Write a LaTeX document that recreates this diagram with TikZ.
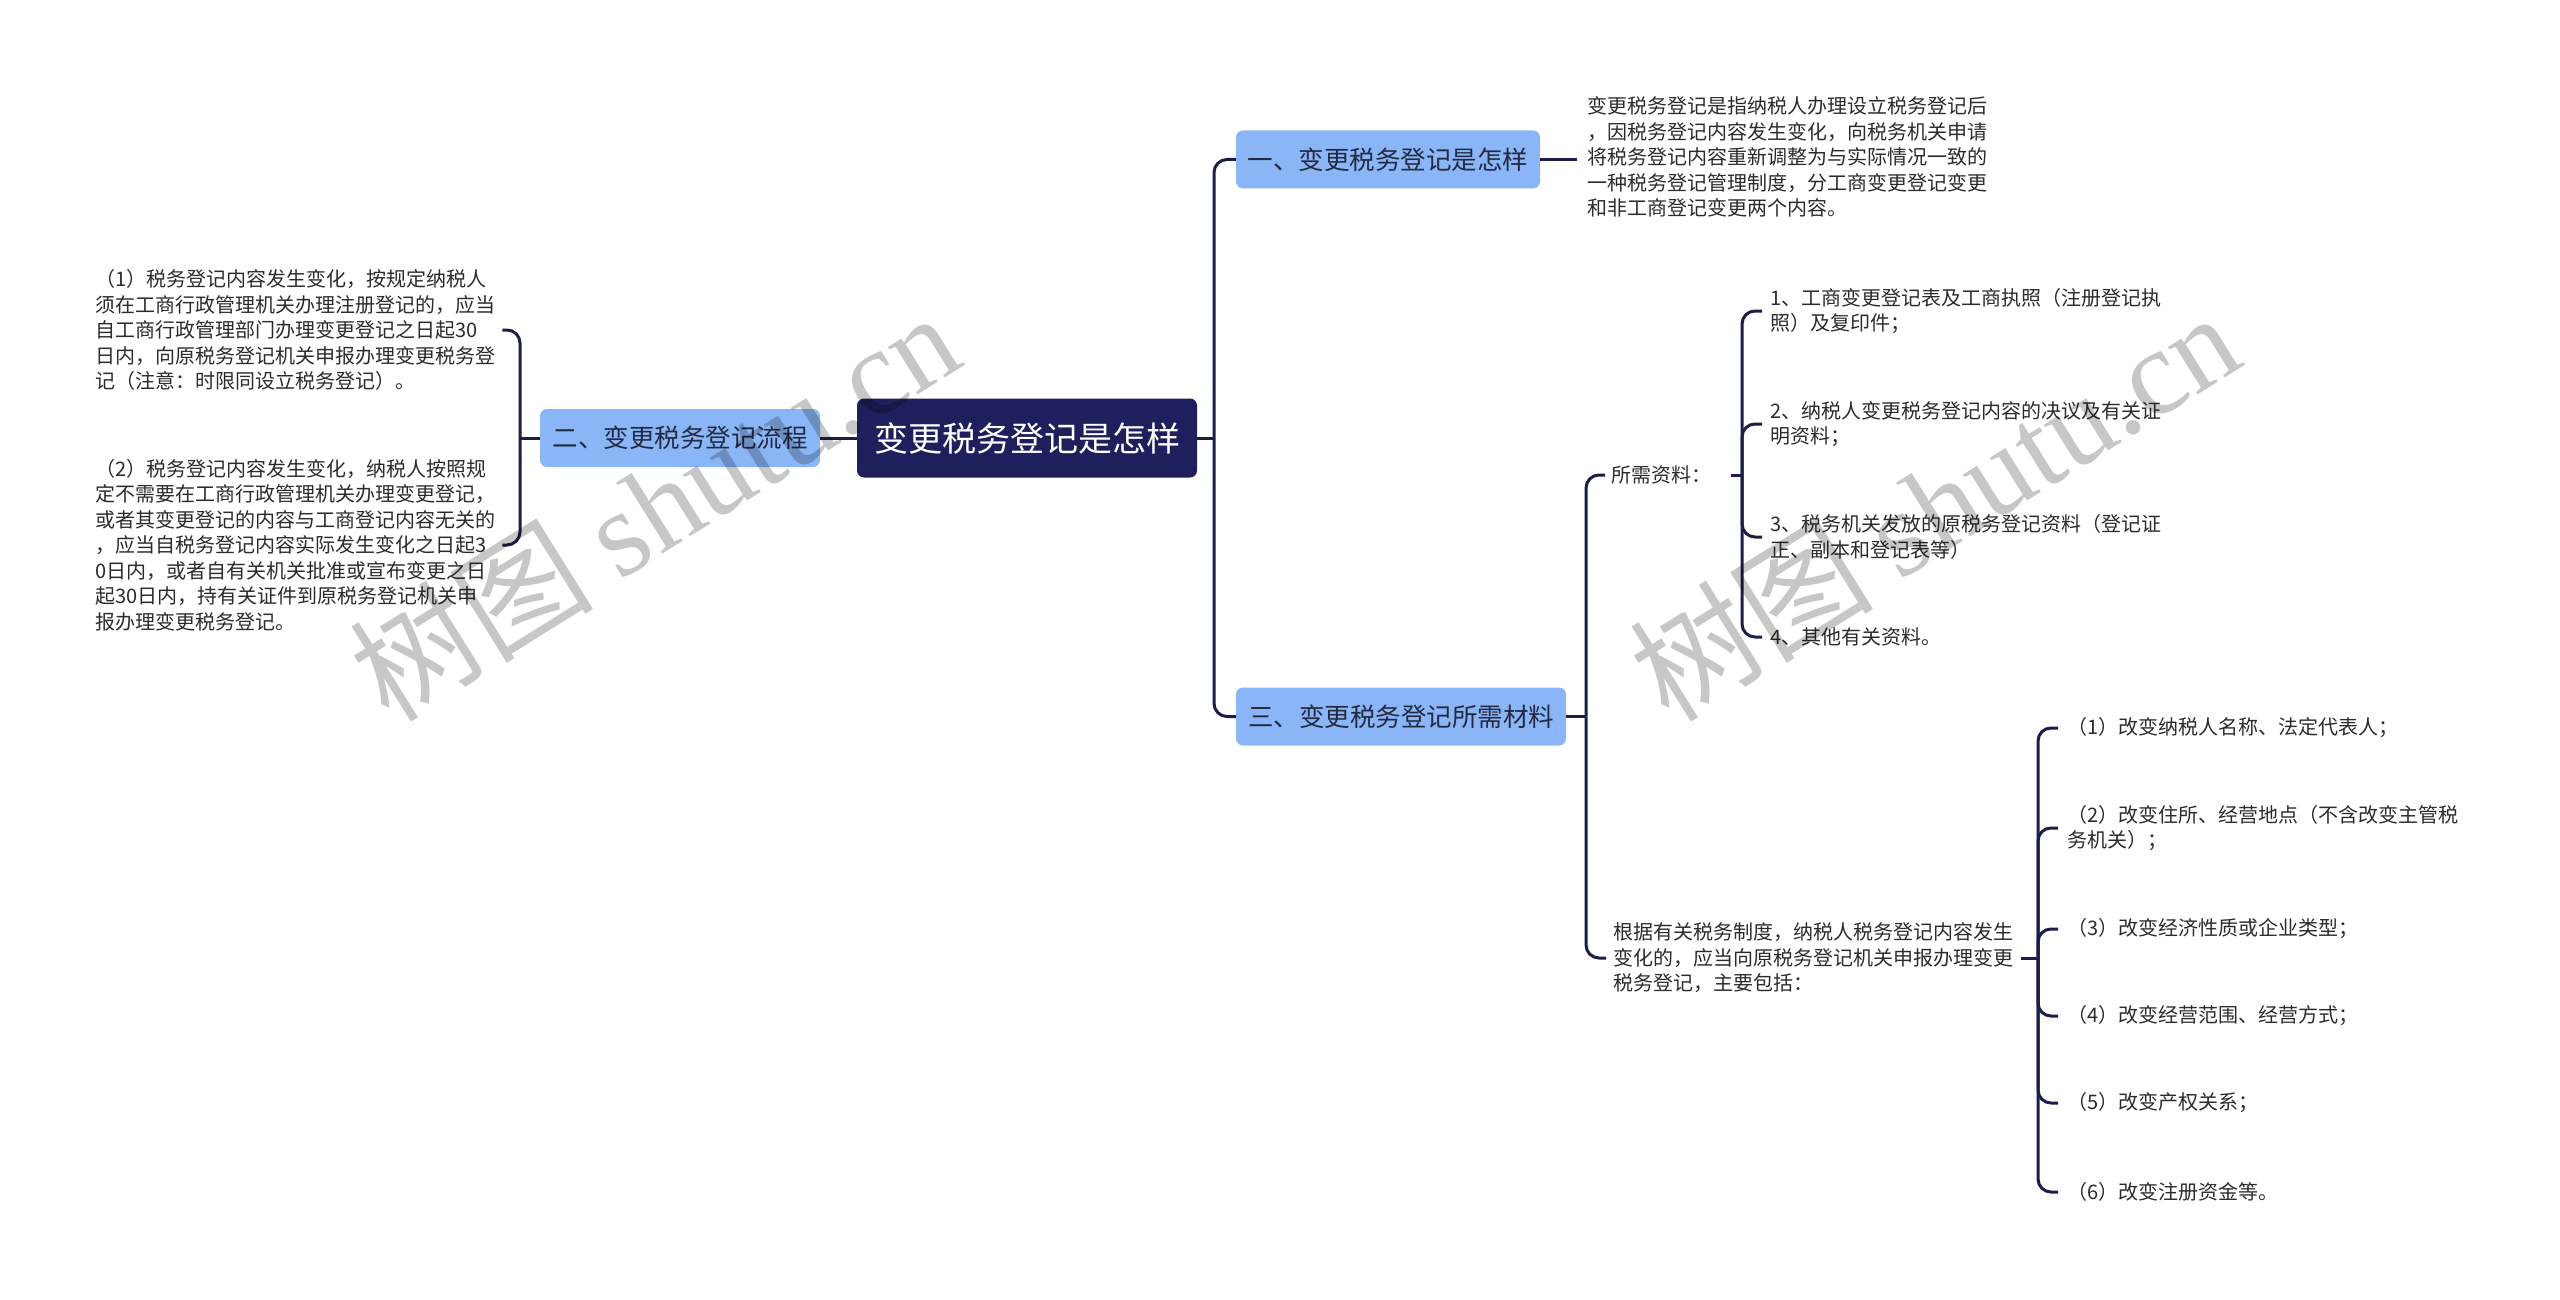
\documentclass[tikz,border=0pt]{standalone}
\usepackage{fontspec}
\setmainfont{Noto Sans CJK SC}
\newfontfamily\wmlatin{Liberation Serif}
\definecolor{rootc}{HTML}{1E1F5C}
\definecolor{branchc}{HTML}{8AB5F7}
\definecolor{branchtext}{HTML}{232A40}
\definecolor{leaftext}{HTML}{2B2B2B}
\definecolor{linec}{HTML}{1B1D4A}
\begin{document}
\begin{tikzpicture}[x=1pt,y=-1pt,
  rootbox/.style={fill=rootc, rounded corners=7pt, text=white, font=\fontsize{34}{40}\selectfont, minimum width=340pt, minimum height=79pt, inner sep=0pt},
  branch/.style={fill=branchc, rounded corners=7pt, text=branchtext, font=\fontsize{25.5}{30}\selectfont, minimum height=58pt, inner sep=0pt},
  leaf/.style={align=left, inner sep=0pt, text=leaftext, font=\fontsize{20}{25.5}\selectfont},
  conn/.style={draw=linec, line width=3pt},
  curl/.style={conn, rounded corners=13pt},
  wm/.style={text=black, opacity=0.22, font=\fontsize{122}{134}\selectfont, inner sep=0pt}
]
\useasboundingbox (0,0) rectangle (2560,1300);

% main nodes
\node[rootbox] (root) at (1027,438) {变更税务登记是怎样};
\node[branch, minimum width=280pt] (b2) at (680,438) {二、变更税务登记流程};
\node[branch, minimum width=304pt] (b1) at (1388,159.5) {一、变更税务登记是怎样};
\node[branch, minimum width=330pt] (b3) at (1401,716.5) {三、变更税务登记所需材料};

% left leaves
\node[leaf, anchor=west] (L1) at (95,330) {（1）税务登记内容发生变化，按规定纳税人\\须在工商行政管理机关办理注册登记的，应当\\自工商行政管理部门办理变更登记之日起30\\日内，向原税务登记机关申报办理变更税务登\\记（注意：时限同设立税务登记）。};
\node[leaf, anchor=west] (L2) at (95,545) {（2）税务登记内容发生变化，纳税人按照规\\定不需要在工商行政管理机关办理变更登记，\\或者其变更登记的内容与工商登记内容无关的\\，应当自税务登记内容实际发生变化之日起3\\0日内，或者自有关机关批准或宣布变更之日\\起30日内，持有关证件到原税务登记机关申\\报办理变更税务登记。};

% branch one description
\node[leaf, anchor=west] (D1) at (1587,157) {变更税务登记是指纳税人办理设立税务登记后\\，因税务登记内容发生变化，向税务机关申请\\将税务登记内容重新调整为与实际情况一致的\\一种税务登记管理制度，分工商变更登记变更\\和非工商登记变更两个内容。};

% branch three
\node[leaf, anchor=west] (S1) at (1611,475) {所需资料：};
\node[leaf, anchor=west] (S2) at (1613,958) {根据有关税务制度，纳税人税务登记内容发生\\变化的，应当向原税务登记机关申报办理变更\\税务登记，主要包括：};

\node[leaf, anchor=west] (A1) at (1770,311) {1、工商变更登记表及工商执照（注册登记执\\照）及复印件；};
\node[leaf, anchor=west] (A2) at (1770,424) {2、纳税人变更税务登记内容的决议及有关证\\明资料；};
\node[leaf, anchor=west] (A3) at (1770,537) {3、税务机关发放的原税务登记资料（登记证\\正、副本和登记表等）};
\node[leaf, anchor=west] (A4) at (1770,637) {4、其他有关资料。};

\node[leaf, anchor=west] (C1) at (2067,728) {（1）改变纳税人名称、法定代表人；};
\node[leaf, anchor=west] (C2) at (2067,828) {（2）改变住所、经营地点（不含改变主管税\\务机关）；};
\node[leaf, anchor=west] (C3) at (2067,929) {（3）改变经济性质或企业类型；};
\node[leaf, anchor=west] (C4) at (2067,1016) {（4）改变经营范围、经营方式；};
\node[leaf, anchor=west] (C5) at (2067,1103) {（5）改变产权关系；};
\node[leaf, anchor=west] (C6) at (2067,1192) {（6）改变注册资金等。};

% bracket points
\coordinate (lb) at (520,438);
\coordinate (rb) at (1214,438);
\coordinate (tb) at (1586,716.5);
\coordinate (sb) at (1742,475);
\coordinate (cb) at (2038,958);

% connectors
\draw[conn] (root.west) -- (b2.east);
\draw[conn] (b2.west) -- (lb);
\draw[curl, shorten >=7pt] (lb) |- (L1.east);
\draw[curl, shorten >=7pt] (lb) |- (L2.east);

\draw[conn] (root.east) -- (rb);
\draw[curl] (rb) |- (b1.west);
\draw[curl] (rb) |- (b3.west);

\draw[conn, shorten >=10pt] (b1.east) -- (b1.east -| D1.west);

\draw[conn] (b3.east) -- (tb);
\draw[curl, shorten >=6pt] (tb) |- (S1.west);
\draw[curl, shorten >=7pt] (tb) |- (S2.west);

\draw[conn, shorten <=20pt] (S1.east) -- (sb);
\draw[curl, shorten >=8pt] (sb) |- (A1.west);
\draw[curl, shorten >=8pt] (sb) |- (A2.west);
\draw[curl, shorten >=8pt] (sb) |- (A3.west);
\draw[curl, shorten >=8pt] (sb) |- (A4.west);

\draw[conn, shorten <=8pt] (S2.east) -- (cb);
\draw[curl, shorten >=9pt] (cb) |- (C1.west);
\draw[curl, shorten >=9pt] (cb) |- (C2.west);
\draw[curl, shorten >=9pt] (cb) |- (C3.west);
\draw[curl, shorten >=9pt] (cb) |- (C4.west);
\draw[curl, shorten >=9pt] (cb) |- (C5.west);
\draw[curl, shorten >=9pt] (cb) |- (C6.west);

% watermarks
\node[wm, rotate=32] (wm1) at (654,505) {树图 {\wmlatin shutu.cn}};
\node[wm, rotate=32] (wm2) at (1934,505) {树图 {\wmlatin shutu.cn}};
\end{tikzpicture}
\end{document}
